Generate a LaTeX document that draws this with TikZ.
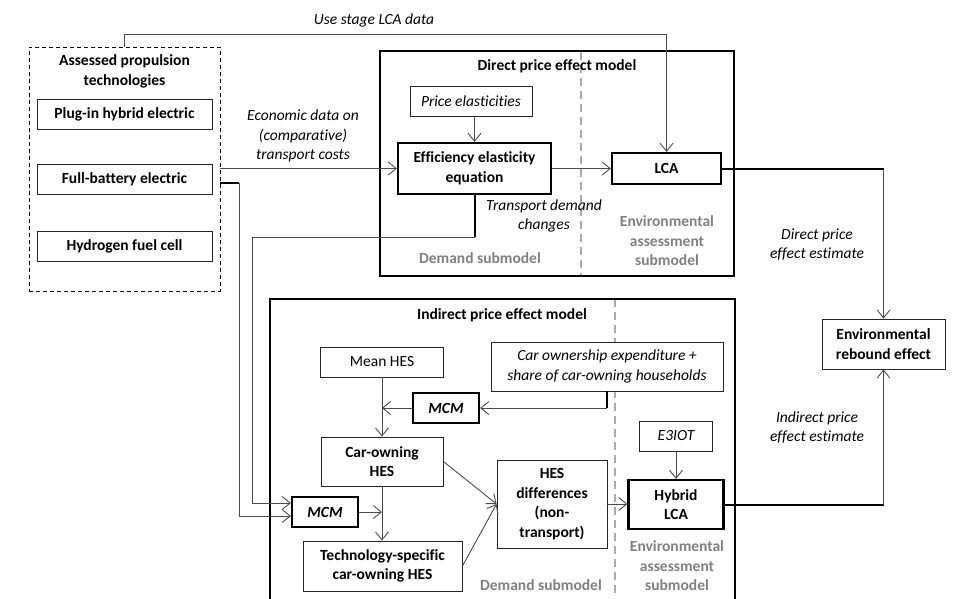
\documentclass[tikz,border=0pt]{standalone}
\usepackage{fontspec}
\setmainfont{Carlito}[Ligatures={NoCommon}]
\usetikzlibrary{arrows.meta}
\definecolor{lbl}{RGB}{128,128,128}
\definecolor{divc}{RGB}{170,170,170}
\definecolor{conn}{RGB}{75,75,75}
\newcommand{\fsz}{\fontsize{15.5}{19.5}\selectfont}
\begin{document}
\begin{tikzpicture}[x=1pt,y=-1pt,
  font=\fsz,
  thinbox/.style={draw=black!85, line width=0.9pt, fill=white, align=center, inner sep=1pt},
  thickbox/.style={draw=black, line width=2.2pt, fill=white, align=center, inner sep=1pt, font=\fsz\bfseries},
  conn/.style={draw=conn, line width=0.9pt},
  arr/.style={conn, -{Straight Barb[length=8pt,width=13pt]}},
  heavy/.style={draw=black, line width=2pt},
  note/.style={align=center, font=\fsz\itshape},
  sublbl/.style={align=center, text=lbl, font=\fsz\bfseries},
  title/.style={align=center, font=\fsz\bfseries},
  divider/.style={draw=divc, line width=1.6pt, dash pattern=on 8pt off 5pt}
]
\useasboundingbox (0,0) rectangle (955,598);
\clip (0,0) rectangle (955,598);

% model frames and dividers
\draw[divider] (615,299) -- (615,598);
\node[draw=black, line width=2.2pt, minimum width=354, minimum height=225] (direct) at (557,163.5) {};
\draw[divider] (581,52) -- (581,275);
\draw[line width=2.2pt] (270,610) -- (270,299) -- (735,299) -- (735,610);

% group of technologies
\node[draw=black, line width=0.9pt, dash pattern=on 4pt off 3pt, minimum width=191, minimum height=244] (group) at (124.5,169) {};
\node[title] (grouptitle) at (124.5,71.5) {Assessed propulsion\\technologies};
\node[thinbox, minimum width=175, minimum height=30, font=\fsz\bfseries] (plugin) at (124.5,114) {Plug-in hybrid electric};
\node[thinbox, minimum width=175, minimum height=30, font=\fsz\bfseries] (battery) at (124.5,179) {Full-battery electric};
\node[thinbox, minimum width=175, minimum height=30, font=\fsz\bfseries] (hydrogen) at (124.5,246) {Hydrogen fuel cell};

% direct price effect model
\node[title] (directtitle) at (557,66) {Direct price effect model};
\node[thinbox, minimum width=122, minimum height=30, font=\fsz\itshape] (priceel) at (471,101) {Price elasticities};
\node[thickbox, minimum width=153, minimum height=51] (eff) at (474.5,168.5) {Efficiency elasticity\\equation};
\node[thickbox, minimum width=109, minimum height=31] (lca) at (666.5,168.5) {LCA};
\node[sublbl] (dsub1) at (480,258) {Demand submodel};
\node[sublbl] (esub1) at (667,241) {Environmental\\assessment\\submodel};

% rebound
\node[thinbox, minimum width=123, minimum height=50, font=\fsz\bfseries] (rebound) at (883.5,344) {Environmental\\rebound effect};

% indirect price effect model
\node[title] (indirecttitle) at (502,315) {Indirect price effect model};
\node[thinbox, minimum width=123, minimum height=30] (meanhes) at (382,362) {Mean HES};
\node[thinbox, minimum width=232, minimum height=49, font=\fsz\itshape] (carown) at (607,366.5) {Car ownership expenditure +\\share of car-owning households};
\node[thickbox, minimum width=66, minimum height=30, font=\fsz\bfseries\itshape] (mcm1) at (446,408) {MCM};
\node[thinbox, minimum width=122, minimum height=49, font=\fsz\bfseries] (carhes) at (382,461.5) {Car-owning\\HES};
\node[thickbox, minimum width=66, minimum height=30, font=\fsz\bfseries\itshape] (mcm2) at (325,512) {MCM};
\node[thinbox, minimum width=159, minimum height=50, font=\fsz\bfseries] (tech) at (382.5,566) {Technology-specific\\car-owning HES};
\node[thinbox, minimum width=110, minimum height=88, font=\fsz\bfseries] (hesdiff) at (552,504) {HES\\differences\\(non-\\transport)};
\node[thinbox, minimum width=73, minimum height=30, font=\fsz\itshape] (e3iot) at (676,436) {E3IOT};
\node[thickbox, minimum width=95, minimum height=49] (hlca) at (676,504.5) {Hybrid\\LCA};
\node[sublbl] (dsub2) at (541,585) {Demand submodel};
\node[sublbl] (esub2) at (677,566) {Environmental\\assessment\\submodel};

% connector labels
\node[note] (uselbl) at (374,20) {Use stage LCA data};
\node[note] (econlbl) at (303,136) {Economic data on\\(comparative)\\transport costs};
\node[note] (tdlbl) at (544,216) {Transport demand\\changes};
\node[note] (dpelbl) at (817,244.5) {Direct price\\effect estimate};
\node[note] (ipelbl) at (817,427.5) {Indirect price\\effect estimate};

% connectors
\coordinate (usetop) at (124.5,34);
\draw[arr] (group.north) -- (usetop) -| (lca.north);
\draw[arr] (group.east |- eff.west) -- (eff.west);
\draw[arr] (eff.north |- priceel.south) -- (eff.north);
\draw[arr] (eff.east) -- (lca.west);
\coordinate (dcorner) at (lca.east -| rebound.north);
\draw[heavy] (lca.east) -- (dcorner);
\draw[arr] (dcorner) -- (rebound.north);

\coordinate (tdturn) at (474.5,237);
\draw[heavy] (eff.south) -- (tdturn);
\coordinate (tdleft) at (252,237);
\draw[arr] (tdturn) -- (tdleft) |- ([yshift=9pt]mcm2.west);

\coordinate (batturn) at (239,183);
\draw[heavy] ([yshift=-14pt]group.east) -- (batturn);
\draw[arr] (batturn) |- ([yshift=-4pt]mcm2.west);

\coordinate (coturn) at (carown.south |- mcm1.east);
\draw[heavy] (carown.south) -- (coturn);
\draw[arr] (coturn) -- (mcm1.east);
\draw[arr] (mcm1.west) -- (mcm1.west -| meanhes.south);
\draw[arr] (meanhes.south) -- (carhes.north);
\draw[arr] (carhes.south) -- (tech.north -| carhes.south);
\draw[arr] (mcm2.east) -- (mcm2.east -| carhes.south);
\draw[arr] (carhes.east) -- (hesdiff.west);
\draw[arr] (tech.east) -- (hesdiff.west);
\draw[arr] (hesdiff.east) -- (hesdiff.east -| hlca.west);
\draw[arr] (e3iot.south) -- (hlca.north);
\coordinate (icorner) at (hlca.east -| rebound.south);
\draw[heavy] (hlca.east) -- (icorner);
\draw[arr] (icorner) -- (rebound.south);
\end{tikzpicture}
\end{document}
